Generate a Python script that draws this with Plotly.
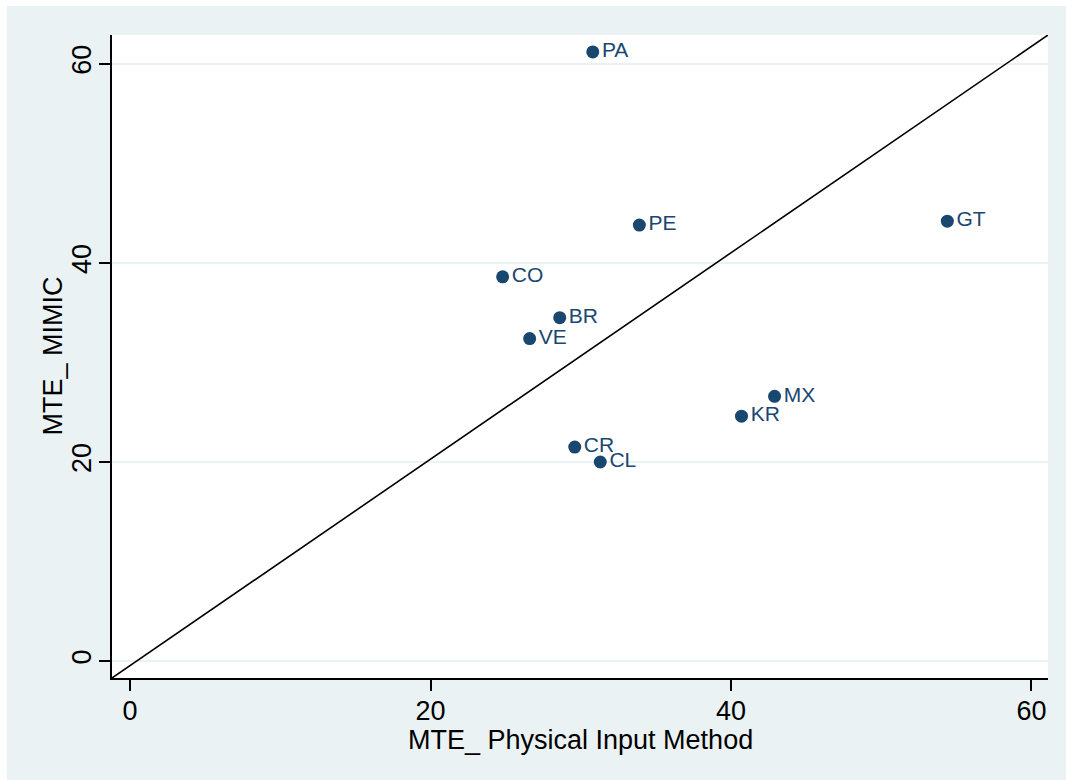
import plotly.graph_objects as go

# Country codes and the two MTE estimates
countries = ["PA", "PE", "GT", "CO", "BR", "VE", "MX", "KR", "CR", "CL"]
mte_physical = [30.8, 33.9, 54.4, 24.8, 28.6, 26.6, 42.9, 40.7, 29.6, 31.3]
mte_mimic = [61.2, 43.8, 44.2, 38.6, 34.5, 32.4, 26.6, 24.6, 21.5, 20.0]

x_ticks = [0, 20, 40, 60]
y_ticks = [0, 20, 40, 60]
x_range = [-1.2, 61.1]
y_range = [-1.7, 62.9]

x_title = "MTE_ Physical Input Method"
y_title = "MTE_ MIMIC"

navy = "#1a476f"
bg = "#eaf2f3"
font_family = "Liberation Sans, Arial, sans-serif"

fig = go.Figure()

# reference line spanning the plot region corner to corner
fig.add_trace(go.Scatter(
    x=x_range, y=y_range, mode="lines",
    line=dict(color="black", width=1.6),
    hoverinfo="skip", showlegend=False, cliponaxis=True,
))

fig.add_trace(go.Scatter(
    x=mte_physical, y=mte_mimic, mode="markers+text",
    text=countries, textposition="middle right",
    textfont=dict(family=font_family, size=21, color=navy),
    marker=dict(color=navy, size=13),
    showlegend=False, cliponaxis=False,
))

# white strips at the top and left edge of the canvas
fig.add_shape(type="rect", xref="paper", yref="paper",
              x0=-0.13, x1=1.03, y0=1.0451, y1=1.07,
              fillcolor="white", line_width=0, layer="below")
fig.add_shape(type="rect", xref="paper", yref="paper",
              x0=-0.13, x1=-0.1122, y0=-0.2, y1=1.07,
              fillcolor="white", line_width=0, layer="below")

# axis titles
fig.add_annotation(text=x_title, xref="paper", yref="paper", x=0.5, y=-0.0965,
                   xanchor="center", yanchor="middle", showarrow=False,
                   font=dict(family=font_family, size=27, color="black"))
fig.add_annotation(text=y_title, xref="paper", yref="paper", x=-0.0641, y=0.5,
                   xanchor="center", yanchor="middle", showarrow=False, textangle=-90,
                   font=dict(family=font_family, size=27, color="black"))

fig.update_layout(
    width=1066, height=780,
    margin=dict(l=112, r=18, t=35, b=102),
    paper_bgcolor=bg, plot_bgcolor="white",
    font=dict(family=font_family, color="black"),
    xaxis=dict(
        range=x_range, tickvals=x_ticks, showgrid=False, zeroline=False,
        showline=True, linecolor="black", linewidth=1.6,
        ticks="outside", ticklen=11, tickwidth=1.6, tickcolor="black",
        tickfont=dict(size=27), ticklabelstandoff=-3,
    ),
    yaxis=dict(
        range=y_range, tickvals=y_ticks, showgrid=True, gridcolor=bg, gridwidth=1.5,
        zeroline=False, showline=True, linecolor="black", linewidth=1.6,
        ticks="outside", ticklen=11, tickwidth=1.6, tickcolor="black",
        tickfont=dict(size=27), tickangle=-90, ticklabelstandoff=-3,
    ),
)

fig.write_html("out.html")
